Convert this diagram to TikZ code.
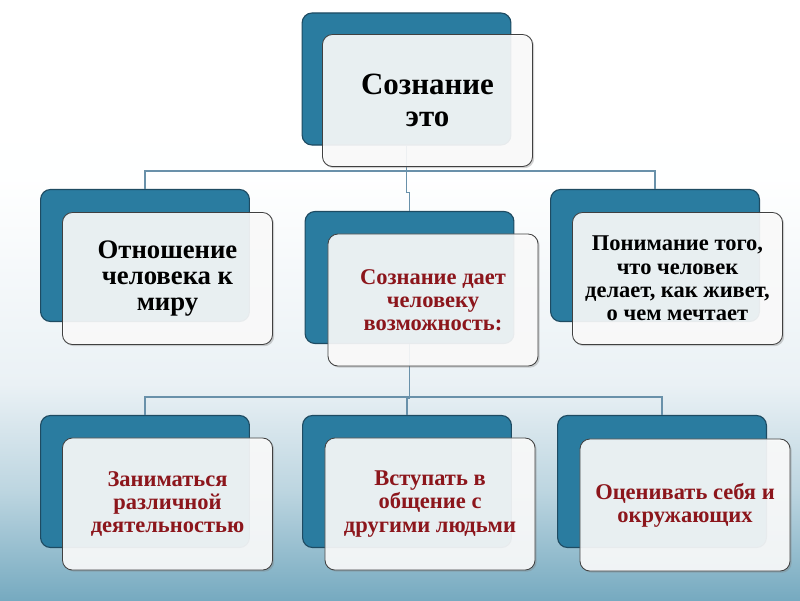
\documentclass[tikz,border=0pt]{standalone}
\usepackage{fontspec}
\setmainfont{LiberationSerif}[Extension=.ttf, UprightFont=*-Regular, BoldFont=*-Bold]
\usetikzlibrary{shadows}

\definecolor{boxblue}{RGB}{42,124,160}
\definecolor{boxedge}{RGB}{30,75,98}
\definecolor{linkblue}{RGB}{105,145,170}
\definecolor{textred}{RGB}{140,22,28}
\definecolor{bgbot}{RGB}{118,170,192}
\definecolor{bgmid}{RGB}{188,213,224}
\definecolor{bglight}{RGB}{234,241,245}

\pgfdeclareverticalshading{bgshade}{100bp}{color(0bp)=(bgbot); color(25bp)=(bgbot);
  color(34bp)=(bgmid); color(43bp)=(bglight); color(60bp)=(white!97!bglight); color(75bp)=(white); color(100bp)=(white)}

\tikzset{
  bluebox/.style={draw=boxedge, fill=boxblue, line width=0.8pt, rounded corners=0.25cm,
    minimum width=5.22cm, minimum height=3.3cm},
  notebox/.style={draw=black!75, fill=white, fill opacity=0.88, text opacity=1, line width=0.6pt,
    rounded corners=0.25cm, minimum width=5.25cm, minimum height=3.3cm, align=center,
    drop shadow={shadow xshift=1.2pt, shadow yshift=-1.2pt, opacity=0.35},
    font=\rmfamily\bfseries\fontsize{16}{16.5}\selectfont},
  link/.style={draw=linkblue, line width=1.2pt},
}

\begin{document}
\begin{tikzpicture}[x=0.025cm, y=-0.025cm]
    \useasboundingbox (0,0) rectangle (800,600);
    \shade[shading=bgshade] (0,0) rectangle (800,600);
    % blue back boxes
    \node[bluebox] (tb) at (406.5,79) {};
    \node[bluebox] (lb) at (145,255.5) {};
    \node[bluebox] (mb) at (409.5,277.5) {};
    \node[bluebox] (rb) at (655,255.5) {};
    \node[bluebox] (dlb) at (145,481.5) {};
    \node[bluebox] (dmb) at (407,481.5) {};
    \node[bluebox] (drb) at (662,481.5) {};
    % connectors
    \coordinate (busa) at (406.5,171);
    \coordinate (busb) at (408,397);
    \draw[link] (lb.north) |- (busa) -| (rb.north);
    \draw[link] (tb.south) -- ++(0,47) -| (mb.north);
    \draw[link] (dlb.north) |- (busb) -| (drb.north);
    \draw[link] (mb.south) -- ++(0,54) -| (dmb.north);
    % front boxes
    \node[notebox, font=\rmfamily\bfseries\fontsize{22}{23}\selectfont] (tw) at (427.5,100.5) {Сознание\\это};
    \node[notebox, font=\rmfamily\bfseries\fontsize{19}{18.5}\selectfont] (lw) at (167.5,278.5) {Отношение\\человека к\\миру};
    \node[notebox, text=textred] (mw) at (433,300) {Сознание дает\\человеку\\возможность:};
    \node[notebox] (rw) at (677.5,278.5) {Понимание того,\\что человек\\делает, как живет,\\о чем мечтает};
    \node[notebox, text=textred] (dlw) at (167.5,504) {Заниматься\\различной\\деятельностью};
    \node[notebox, text=textred] (dmw) at (430,504) {Вступать в\\общение с\\другими людьми};
    \node[notebox, text=textred] (drw) at (685,505) {Оценивать себя и\\окружающих};
\end{tikzpicture}
\end{document}
